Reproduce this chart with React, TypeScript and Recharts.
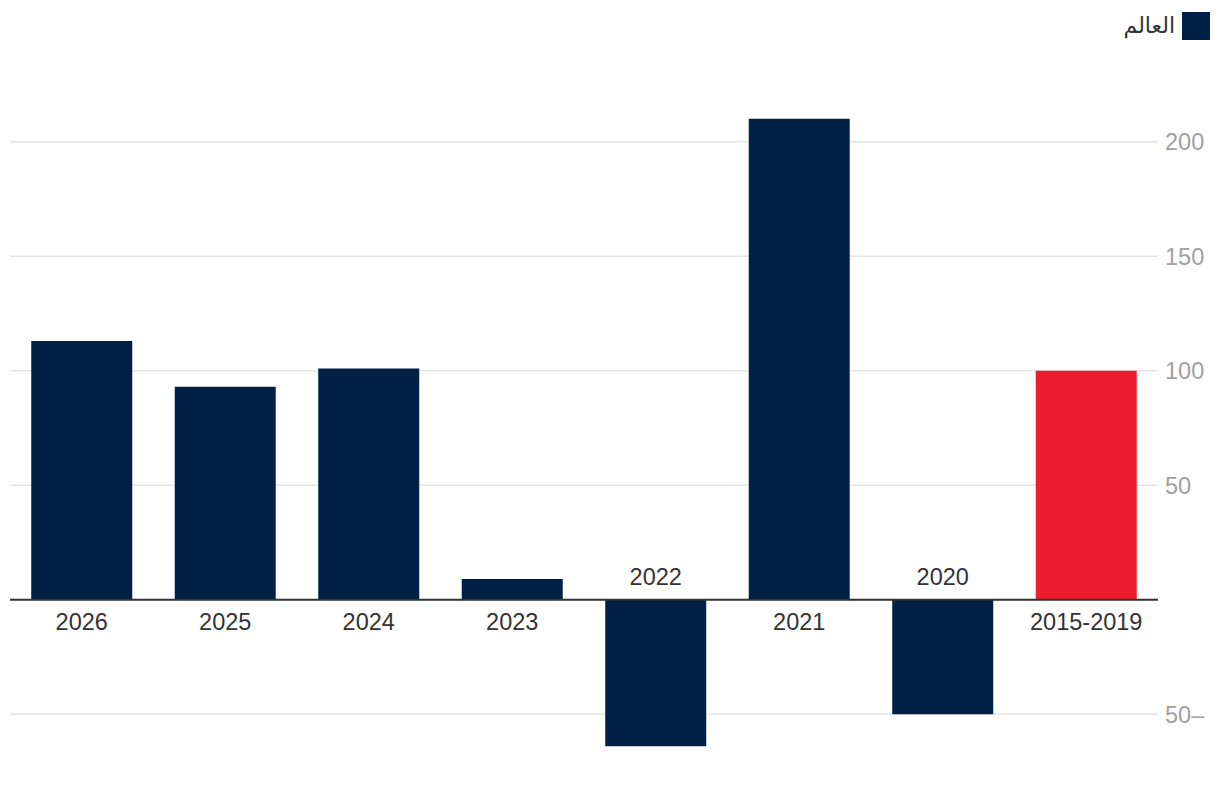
import { BarChart, Bar, XAxis, YAxis, CartesianGrid, ReferenceLine, LabelList, Cell } from 'recharts';

const categories = ['2015-2019', '2020', '2021', '2022', '2023', '2024', '2025', '2026'];
const worldValues = [100, -50, 210, -64, 9, 101, 93, 113];
const yTicks = [-50, 0, 50, 100, 150, 200];
const legendLabel = 'العالم';

const NAVY = '#002145';
const RED = '#ed1c2e';
const FONT = "'Liberation Sans', Arial, sans-serif";

const data = categories.map((name, i) => ({ name, value: worldValues[i] }));

const formatTick = (v: number) => {
  if (v === 0) return '';
  if (v < 0) return `${Math.abs(v)}–`;
  return String(v);
};

const CategoryLabel = (props: any) => {
  const { x, y, width, height, index } = props;
  const v = data[index].value;
  const top = Math.min(y, y + height);
  const bottom = Math.max(y, y + height);
  const zeroY = v >= 0 ? bottom : top;
  const ty = v >= 0 ? zeroY + 30 : zeroY - 15;
  return (
    <text x={x + width / 2} y={ty} textAnchor="middle" fill="#333" fontSize={23.5} fontFamily={FONT}>
      {data[index].name}
    </text>
  );
};

export default function App() {
  return (
    <div style={{ position: 'absolute', left: 0, top: 0, width: 1220, height: 798, background: '#fff' }}>
      <div
        style={{
          position: 'absolute',
          top: 12,
          right: 10,
          display: 'flex',
          alignItems: 'center',
          gap: 7,
          fontFamily: "'Liberation Sans', 'DejaVu Sans', sans-serif",
          fontSize: 22,
          color: '#333',
        }}
      >
        <span dir="rtl">{legendLabel}</span>
        <span style={{ display: 'inline-block', width: 28, height: 28, background: NAVY }} />
      </div>
      <BarChart
        width={1220}
        height={798}
        data={data}
        margin={{ top: 73, right: 0, bottom: 38, left: 10 }}
        barCategoryGap="14.8%"
      >
        <CartesianGrid vertical={false} stroke="#e6e6e6" strokeWidth={1.5} syncWithTicks />
        <XAxis dataKey="name" reversed hide />
        <YAxis
          orientation="right"
          width={62}
          domain={[-70, 230]}
          ticks={yTicks}
          tickFormatter={formatTick}
          axisLine={false}
          tickLine={false}
          tickMargin={1}
          tick={{ fill: '#a0a0a0', fontSize: 23.5, fontFamily: FONT, textAnchor: 'start' }}
          interval={0}
        />
        <Bar dataKey="value" isAnimationActive={false}>
          {data.map((d, i) => (
            <Cell key={d.name} fill={i === 0 ? RED : NAVY} />
          ))}
          <LabelList dataKey="name" content={CategoryLabel} />
        </Bar>
        <ReferenceLine y={0} stroke="#333" strokeWidth={2} />
      </BarChart>
    </div>
  );
}
